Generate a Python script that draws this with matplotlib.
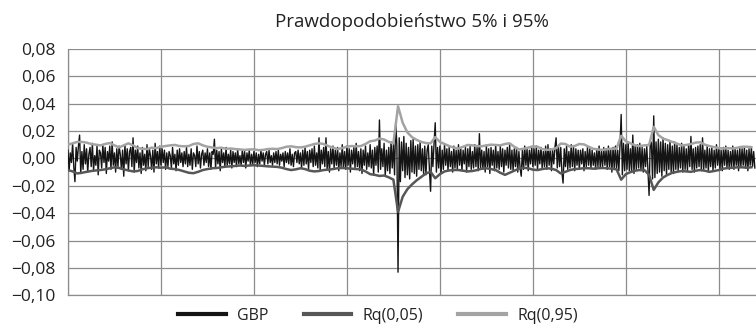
import numpy as np
import matplotlib
matplotlib.use("Agg")
import matplotlib.pyplot as plt
from matplotlib.lines import Line2D

plt.rcParams['font.family'] = ['Open Sans', 'DejaVu Sans']

title = "Prawdopodobieństwo 5% i 95%"
series_names = ["GBP", "Rq(0,05)", "Rq(0,95)"]
y_ticks = [-0.10, -0.08, -0.06, -0.04, -0.02, 0.00, 0.02, 0.04, 0.06, 0.08]

# daily GBP log-returns
gbp = [
    0.006, -0.009, 0.004, -0.003, 0.011, -0.006, -0.017, 0.008, -0.002, 0.009,
    0.017, -0.011, 0.005, -0.008, 0.010, -0.004, 0.007, -0.010, 0.003, 0.008,
    -0.006, 0.011, -0.009, 0.002, -0.005, 0.009, -0.012, 0.006, 0.004, -0.007,
    0.010, -0.003, 0.008, -0.011, 0.005, -0.002, 0.009, -0.008, 0.012, -0.005,
    0.004, -0.010, 0.007, -0.006, 0.009, 0.003, -0.008, 0.006, -0.013, 0.010,
    -0.004, 0.007, -0.009, 0.005, 0.008, -0.006, 0.015, -0.010, 0.006, -0.003,
    0.009, -0.007, 0.004, -0.011, 0.008, -0.005, 0.003, -0.009, 0.010, -0.006,
    0.007, 0.002, -0.008, 0.006, -0.010, 0.011, -0.004, 0.005, -0.007, 0.009,
    -0.005, 0.007, -0.003, 0.006, -0.008, 0.004, -0.006, 0.005, 0.002, -0.007,
    0.008, -0.004, 0.003, -0.009, 0.006, -0.005, 0.007, -0.003, 0.004, -0.006,
    0.005, -0.004, 0.008, -0.006, 0.003, -0.005, 0.007, -0.008, 0.004, 0.002,
    -0.006, 0.009, -0.004, 0.005, -0.007, 0.003, 0.006, -0.005, 0.004, -0.003,
    0.007, -0.006, 0.004, -0.008, 0.005, 0.003, 0.014, -0.007, 0.006, -0.004,
    0.005, -0.009, 0.007, -0.003, 0.004, -0.006, 0.008, -0.005, 0.003, -0.004,
    0.006, -0.007, 0.005, -0.003, 0.004, -0.006, 0.007, -0.004, 0.002, -0.005,
    0.006, -0.003, 0.005, -0.007, 0.004, -0.002, 0.006, -0.005, 0.003, -0.004,
    0.005, -0.003, 0.004, -0.006, 0.003, -0.004, 0.006, -0.002, 0.004, -0.005,
    0.003, 0.005, -0.004, 0.006, -0.003, 0.002, -0.005, 0.004, -0.003, 0.005,
    -0.004, 0.006, -0.005, 0.003, -0.002, 0.004, -0.006, 0.005, -0.003, 0.004,
    -0.004, 0.007, -0.005, 0.003, -0.006, 0.004, 0.005, -0.003, 0.006, -0.004,
    0.004, -0.007, 0.006, -0.005, 0.008, -0.004, 0.005, -0.008, 0.006, -0.003,
    0.007, -0.006, 0.009, -0.005, 0.004, -0.007, 0.015, -0.009, 0.006, -0.004,
    0.008, -0.006, 0.015, -0.008, 0.005, -0.010, 0.007, -0.004, 0.009, -0.007,
    0.006, -0.005, 0.008, -0.009, 0.004, -0.006, 0.010, -0.007, 0.005, -0.008,
    0.009, -0.005, 0.007, -0.010, 0.006, -0.004, 0.008, -0.007, 0.011, -0.006,
    0.005, -0.009, 0.007, -0.011, 0.006, -0.005, 0.009, -0.008, 0.004, -0.006,
    0.010, -0.007, 0.006, -0.012, 0.008, -0.005, 0.009, -0.010, 0.028, -0.008,
    0.007, -0.006, 0.011, -0.013, 0.006, -0.009, 0.008, -0.011, 0.012, -0.007,
    0.010, -0.012, 0.027, 0.009, -0.083, 0.015, -0.017, 0.012, -0.009, 0.016,
    -0.014, 0.011, -0.012, 0.008, -0.015, 0.013, -0.010, 0.014, -0.011, 0.009,
    -0.013, 0.010, -0.008, 0.012, -0.009, 0.007, -0.011, 0.009, -0.012, 0.006,
    0.010, -0.008, -0.024, 0.009, -0.006, 0.011, 0.026, -0.010, 0.008, -0.007,
    0.009, -0.011, 0.006, -0.008, 0.010, -0.005, 0.007, -0.009, 0.008, -0.006,
    0.005, -0.010, 0.009, -0.007, 0.006, -0.008, 0.010, -0.005, 0.007, -0.009,
    0.006, -0.004, 0.008, -0.010, 0.007, -0.006, 0.009, -0.008, 0.005, -0.007,
    0.010, -0.006, 0.008, -0.009, 0.018, -0.007, 0.006, -0.008, 0.005, -0.010,
    0.009, -0.006, 0.007, -0.011, 0.008, -0.005, 0.006, -0.009, 0.010, -0.007,
    0.005, -0.008, 0.009, -0.006, 0.007, -0.010, 0.006, -0.005, 0.008, -0.007,
    0.010, -0.008, 0.006, -0.009, 0.007, -0.006, 0.008, -0.010, 0.005, -0.007,
    -0.013, 0.006, -0.008, 0.009, -0.005, 0.007, -0.009, 0.006, -0.004, 0.008,
    -0.006, 0.007, -0.005, 0.009, -0.008, 0.006, -0.004, 0.008, -0.007, 0.005,
    -0.006, 0.009, -0.008, 0.010, -0.005, 0.007, -0.009, 0.006, -0.004, 0.008,
    0.015, -0.007, 0.009, -0.006, 0.008, -0.010, -0.018, 0.007, -0.006, 0.009,
    -0.008, 0.005, -0.007, 0.010, -0.006, 0.008, -0.009, 0.007, -0.005, 0.006,
    -0.008, 0.006, -0.004, 0.007, -0.009, 0.005, -0.006, 0.008, -0.005, 0.007,
    -0.007, 0.006, -0.005, 0.004, -0.008, 0.007, -0.006, 0.009, -0.007, 0.005,
    -0.006, 0.008, -0.005, 0.006, -0.008, 0.009, -0.006, 0.007, -0.010, 0.008,
    -0.007, 0.009, -0.008, 0.006, -0.009, 0.010, 0.032, -0.012, 0.011, -0.009,
    0.010, -0.008, 0.012, -0.009, 0.007, -0.010, 0.017, -0.011, 0.009, -0.008,
    0.010, -0.007, 0.011, -0.009, 0.008, -0.010, 0.007, -0.006, 0.009, -0.008,
    -0.027, 0.013, 0.011, -0.015, 0.031, -0.014, 0.012, -0.011, 0.014, -0.010,
    0.012, -0.013, 0.015, -0.009, 0.011, -0.012, 0.010, -0.008, 0.013, -0.010,
    0.009, -0.011, 0.012, -0.008, 0.010, -0.009, 0.008, -0.007, 0.011, -0.010,
    0.009, -0.008, 0.007, -0.009, 0.010, -0.006, 0.016, -0.008, 0.007, -0.010,
    0.008, -0.007, 0.009, -0.006, 0.010, -0.009, 0.015, -0.008, 0.006, -0.007,
    0.009, -0.010, 0.007, -0.006, 0.008, -0.009, 0.006, -0.007, 0.010, -0.005,
    0.007, -0.008, 0.006, -0.009, 0.008, -0.005, 0.009, -0.007, 0.006, -0.008,
    0.005, -0.006, 0.009, -0.008, 0.007, -0.005, 0.006, -0.009, 0.008, -0.006,
    0.007, -0.005, 0.008, -0.007, 0.006, -0.009, 0.007, -0.005, 0.008, -0.006,
    0.005, -0.007,
]

# 5% conditional quantile, every fourth observation
rq05 = [
    -0.0085, -0.0095, -0.0110, -0.0105, -0.0098, -0.0092, -0.0088, -0.0085, -0.0080, -0.0072,
    -0.0065, -0.0070, -0.0080, -0.0088, -0.0095, -0.0092, -0.0080, -0.0072, -0.0068, -0.0065,
    -0.0068, -0.0065, -0.0075, -0.0078, -0.0085, -0.0095, -0.0105, -0.0108, -0.0098, -0.0085,
    -0.0078, -0.0072, -0.0070, -0.0065, -0.0060, -0.0058, -0.0055, -0.0052, -0.0055, -0.0052,
    -0.0050, -0.0052, -0.0055, -0.0058, -0.0060, -0.0062, -0.0068, -0.0078, -0.0085, -0.0080,
    -0.0072, -0.0078, -0.0090, -0.0095, -0.0092, -0.0085, -0.0082, -0.0078, -0.0072, -0.0070,
    -0.0072, -0.0075, -0.0078, -0.0080, -0.0095, -0.0115, -0.0120, -0.0128, -0.0125, -0.0138,
    -0.0155, -0.0390, -0.0280, -0.0225, -0.0190, -0.0160, -0.0135, -0.0110, -0.0098, -0.0145,
    -0.0115, -0.0095, -0.0088, -0.0085, -0.0085, -0.0090, -0.0095, -0.0092, -0.0085, -0.0075,
    -0.0072, -0.0078, -0.0085, -0.0105, -0.0120, -0.0105, -0.0090, -0.0075, -0.0068, -0.0072,
    -0.0082, -0.0085, -0.0078, -0.0072, -0.0075, -0.0085, -0.0110, -0.0098, -0.0085, -0.0078,
    -0.0075, -0.0072, -0.0072, -0.0075, -0.0072, -0.0070, -0.0072, -0.0075, -0.0080, -0.0155,
    -0.0115, -0.0100, -0.0090, -0.0085, -0.0085, -0.0120, -0.0230, -0.0175, -0.0140, -0.0120,
    -0.0105, -0.0098, -0.0092, -0.0095, -0.0098, -0.0090, -0.0085, -0.0090, -0.0098, -0.0092,
    -0.0085, -0.0075, -0.0070, -0.0068, -0.0065, -0.0065, -0.0068, -0.0065,
]

# 95% conditional quantile, every fourth observation
rq95 = [
    0.0100, 0.0110, 0.0120, 0.0120, 0.0115, 0.0105, 0.0100, 0.0095, 0.0105, 0.0112,
    0.0095, 0.0080, 0.0095, 0.0110, 0.0095, 0.0075, 0.0070, 0.0068, 0.0078, 0.0075,
    0.0085, 0.0090, 0.0095, 0.0098, 0.0090, 0.0088, 0.0090, 0.0105, 0.0110, 0.0095,
    0.0085, 0.0080, 0.0075, 0.0078, 0.0070, 0.0072, 0.0068, 0.0065, 0.0062, 0.0065,
    0.0066, 0.0060, 0.0062, 0.0068, 0.0070, 0.0068, 0.0075, 0.0085, 0.0088, 0.0082,
    0.0080, 0.0085, 0.0095, 0.0105, 0.0110, 0.0105, 0.0090, 0.0078, 0.0068, 0.0075,
    0.0085, 0.0090, 0.0088, 0.0090, 0.0105, 0.0125, 0.0130, 0.0145, 0.0138, 0.0120,
    0.0110, 0.0380, 0.0260, 0.0190, 0.0155, 0.0135, 0.0120, 0.0112, 0.0110, 0.0155,
    0.0120, 0.0105, 0.0090, 0.0078, 0.0072, 0.0085, 0.0098, 0.0095, 0.0090, 0.0088,
    0.0095, 0.0100, 0.0098, 0.0095, 0.0105, 0.0110, 0.0085, 0.0065, 0.0070, 0.0078,
    0.0088, 0.0085, 0.0068, 0.0062, 0.0065, 0.0075, 0.0108, 0.0105, 0.0085, 0.0090,
    0.0105, 0.0102, 0.0085, 0.0070, 0.0065, 0.0062, 0.0068, 0.0070, 0.0072, 0.0165,
    0.0125, 0.0110, 0.0095, 0.0090, 0.0095, 0.0098, 0.0230, 0.0170, 0.0145, 0.0133,
    0.0120, 0.0108, 0.0095, 0.0098, 0.0105, 0.0115, 0.0118, 0.0100, 0.0090, 0.0082,
    0.0075, 0.0072, 0.0075, 0.0072, 0.0078, 0.0085, 0.0085, 0.0082,
]

gbp = np.array(gbp)
rq05 = np.array(rq05)
rq95 = np.array(rq95)

n = len(gbp)
x_gbp = np.arange(n)
x_q = np.arange(len(rq05)) * 4

col_gbp = "#141414"
col_q05 = "#575757"
col_q95 = "#a3a3a3"
grid_col = "#8c8c8c"
text_col = "#222222"

fig = plt.figure(figsize=(7.56, 3.26), dpi=100)
ax = fig.add_axes([0.0899, 0.0936, 0.9101, 0.757])

ax.plot(x_gbp, gbp, color=col_gbp, lw=1.0, zorder=3)
ax.plot(x_q, rq05, color=col_q05, lw=1.8, zorder=4)
ax.plot(x_q, rq95, color=col_q95, lw=1.8, zorder=5)

ax.set_xlim(0, n)
ax.set_ylim(-0.10, 0.08)
ax.set_yticks(y_ticks)
ax.set_yticklabels([f"{v:.2f}".replace(".", ",").replace("-", "\u2212") for v in y_ticks])
ax.set_xticks(np.arange(0, n, 80))
ax.set_xticklabels([])
ax.tick_params(axis="both", length=0, labelsize=12.5, colors=text_col, pad=9)
ax.grid(True, color=grid_col, lw=0.9)
ax.set_axisbelow(True)
for s in ["top", "right"]:
    ax.spines[s].set_visible(False)
for s in ["left", "bottom"]:
    ax.spines[s].set_color(grid_col)
    ax.spines[s].set_linewidth(0.9)

fig.text(412 / 756, 1 - 27 / 326, title, ha="center", va="baseline",
         fontsize=13.5, color=text_col)

handles = [Line2D([], [], color=c, lw=3) for c in (col_gbp, col_q05, col_q95)]
fig.legend(handles, series_names, loc="center", bbox_to_anchor=(378 / 756, 1 - 316 / 326),
           ncol=3, frameon=False, fontsize=11.5, handlelength=3.0, handletextpad=0.7,
           columnspacing=2.2, labelcolor=text_col, borderpad=0)

fig.savefig("out.png", dpi=100)
